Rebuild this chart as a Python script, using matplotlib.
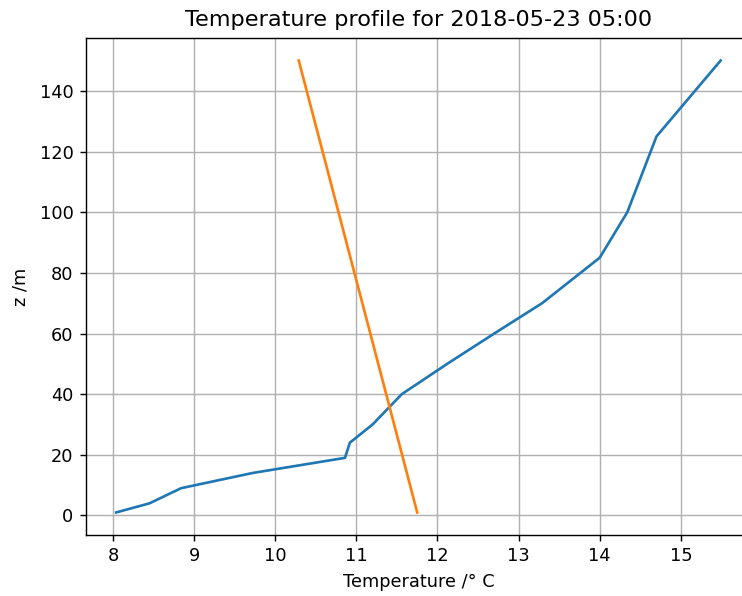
import matplotlib
matplotlib.use("Agg")
import matplotlib.pyplot as plt

# Measured profile (blue)
height_measured = [1, 4, 9, 14, 19, 24, 30, 40, 50, 60, 70, 85, 100, 125, 150]
temp_measured = [8.04, 8.45, 8.84, 9.72, 10.86, 10.92, 11.2, 11.56, 12.12, 12.7, 13.29, 14.0, 14.34, 14.70, 15.49]

# Reference profile (orange)
height_reference = [1, 150]
temp_reference = [11.75, 10.29]

DPI = 128
fig = plt.figure(figsize=(742 / DPI, 596 / DPI), dpi=DPI)
ax = fig.add_axes([0.1159, 0.1023, 0.896, 0.834])

ax.plot(temp_measured, height_measured, color="#1f77b4", linewidth=1.5)
ax.plot(temp_reference, height_reference, color="#ff7f0e", linewidth=1.5)

ax.grid(True, color="#b0b0b0", linewidth=0.8)
ax.set_xticks(range(8, 16))
ax.set_yticks(range(0, 141, 20))
ax.tick_params(labelsize=10)
ax.set_xlabel("Temperature /° C", fontsize=10)
ax.set_ylabel("z /m", fontsize=10, labelpad=6)
ax.set_title("Temperature profile for 2018-05-23 05:00", fontsize=12.6, pad=7)

fig.savefig("out.png", dpi=DPI)
